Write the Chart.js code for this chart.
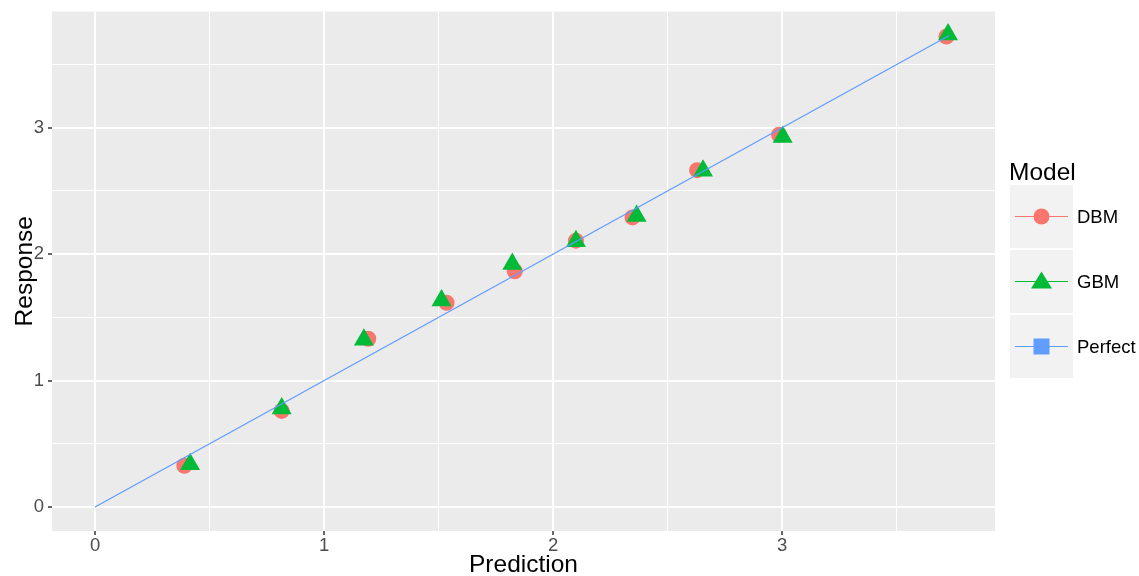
<!DOCTYPE html>
<html>
<head>
<meta charset="utf-8">
<script src="https://cdn.jsdelivr.net/npm/chart.js@4.4.1/dist/chart.umd.min.js"></script>
<style>
  html, body { margin: 0; padding: 0; background: #ffffff; }
  #wrap { width: 1139px; height: 576px; position: relative; }
</style>
</head>
<body>
<div id="wrap"><canvas id="c" width="1139" height="576"></canvas></div>
<script>
// Predicted vs. observed response for each model
const dbmPred = [0.390, 0.815, 1.193, 1.535, 1.833, 2.100, 2.347, 2.629, 2.987, 3.718];
const dbmResp = [0.326, 0.760, 1.331, 1.616, 1.865, 2.107, 2.291, 2.665, 2.944, 3.722];
const gbmPred = [0.415, 0.815, 1.174, 1.513, 1.822, 2.100, 2.365, 2.655, 3.003, 3.725];
const gbmResp = [0.339, 0.779, 1.324, 1.634, 1.923, 2.102, 2.303, 2.660, 2.928, 3.739];
// Reference line y = x
const perfectX = [0, 3.73];
const perfectY = [0, 3.73];

const seriesNames = ['DBM', 'GBM', 'Perfect'];
const seriesColors = ['#F8766D', '#00BA38', '#619CFF'];
const gridTicks = [0, 0.5, 1, 1.5, 2, 2.5, 3, 3.5];
const xTitle = 'Prediction';
const yTitle = 'Response';
const legendTitle = 'Model';

const toPoints = (xs, ys) => xs.map((x, i) => ({ x: x, y: ys[i] }));
const isMajor = v => Math.abs(v - Math.round(v)) < 1e-9;

const FONT = '"Liberation Sans", Arial, sans-serif';

const panelBg = {
  id: 'panelBg',
  beforeDraw(chart) {
    const { ctx, chartArea: a } = chart;
    ctx.save();
    ctx.fillStyle = '#EBEBEB';
    ctx.fillRect(a.left, a.top, a.right - a.left, a.bottom - a.top);
    ctx.restore();
  }
};

// x-axis title under the tick labels
const xAxisTitle = {
  id: 'xAxisTitle',
  afterDraw(chart) {
    const { ctx, chartArea: a } = chart;
    ctx.save();
    ctx.fillStyle = '#000000';
    ctx.font = '24.5px ' + FONT;
    ctx.textAlign = 'center';
    ctx.textBaseline = 'alphabetic';
    ctx.fillText(xTitle, (a.left + a.right) / 2, 572);
    ctx.restore();
  }
};

// ggplot-style legend: grey key boxes with line + marker
const keyLegend = {
  id: 'keyLegend',
  afterDraw(chart) {
    const ctx = chart.ctx;
    ctx.save();
    ctx.fillStyle = '#000000';
    ctx.font = '24.5px ' + FONT;
    ctx.textBaseline = 'alphabetic';
    ctx.textAlign = 'left';
    ctx.fillText(legendTitle, 1009, 180);
    const keyX = 1010, keyW = 63, keyH = 63, top0 = 185, gap = 2;
    seriesNames.forEach((name, i) => {
      const y0 = top0 + i * (keyH + gap);
      const cy = y0 + keyH / 2;
      const cx = keyX + keyW / 2;
      ctx.fillStyle = '#F2F2F2';
      ctx.fillRect(keyX, y0, keyW, keyH);
      ctx.strokeStyle = seriesColors[i];
      ctx.lineWidth = 1.2;
      ctx.beginPath();
      ctx.moveTo(keyX + 5, cy);
      ctx.lineTo(keyX + keyW - 5, cy);
      ctx.stroke();
      ctx.fillStyle = seriesColors[i];
      ctx.beginPath();
      if (i === 0) {
        ctx.arc(cx, cy, 8, 0, Math.PI * 2);
      } else if (i === 1) {
        ctx.moveTo(cx, cy - 10);
        ctx.lineTo(cx + 10.5, cy + 7);
        ctx.lineTo(cx - 10.5, cy + 7);
        ctx.closePath();
      } else {
        ctx.rect(cx - 8, cy - 8, 16, 16);
      }
      ctx.fill();
      ctx.fillStyle = '#000000';
      ctx.font = '18.5px ' + FONT;
      ctx.textBaseline = 'middle';
      ctx.fillText(name, 1077, cy + 1);
    });
    ctx.restore();
  }
};

const gridCfg = {
  color: '#FFFFFF',
  lineWidth: c => (c.tick && isMajor(c.tick.value) ? 2 : 1),
  tickColor: c => (c.tick && isMajor(c.tick.value) ? '#333333' : 'rgba(0,0,0,0)'),
  tickLength: 4,
  tickWidth: 1.5,
  drawOnChartArea: true
};
const tickFont = { family: FONT, size: 18.5 };
const titleFont = { family: FONT, size: 24.5 };

new Chart(document.getElementById('c'), {
  type: 'scatter',
  data: {
    datasets: [
      {
        label: 'Perfect',
        data: toPoints(perfectX, perfectY),
        showLine: true,
        borderColor: seriesColors[2],
        borderWidth: 1.3,
        pointRadius: 0,
        order: 0
      },
      {
        label: 'GBM',
        data: toPoints(gbmPred, gbmResp),
        backgroundColor: seriesColors[1],
        borderColor: seriesColors[1],
        borderWidth: 0,
        pointStyle: 'triangle',
        pointRadius: 11.5,
        order: 1
      },
      {
        label: 'DBM',
        data: toPoints(dbmPred, dbmResp),
        backgroundColor: seriesColors[0],
        borderColor: seriesColors[0],
        borderWidth: 0,
        pointStyle: 'circle',
        pointRadius: 8,
        order: 2
      }
    ]
  },
  options: {
    responsive: false,
    animation: false,
    layout: { padding: { top: 10, right: 144, left: 0, bottom: 0 } },
    plugins: { legend: { display: false }, tooltip: { enabled: false } },
    scales: {
      x: {
        type: 'linear',
        min: -0.188,
        max: 3.93,
        afterBuildTicks: s => { s.ticks = gridTicks.map(v => ({ value: v })); },
        afterFit: s => { s.height = 45; s.paddingLeft = 0; s.paddingRight = 0; },
        grid: gridCfg,
        border: { display: false },
        ticks: {
          autoSkip: false,
          maxRotation: 0,
          color: '#4D4D4D',
          font: tickFont,
          padding: 0,
          callback: v => (isMajor(v) ? String(Math.round(v)) : '')
        },
        title: { display: false }
      },
      y: {
        type: 'linear',
        min: -0.19,
        max: 3.92,
        afterBuildTicks: s => { s.ticks = gridTicks.map(v => ({ value: v })); },
        afterFit: s => { s.width = 52; s.paddingTop = 0; s.paddingBottom = 0; },
        grid: gridCfg,
        border: { display: false },
        ticks: {
          autoSkip: false,
          color: '#4D4D4D',
          font: tickFont,
          padding: 4,
          callback: v => (isMajor(v) ? String(Math.round(v)) : '')
        },
        title: { display: true, text: yTitle, color: '#000000', font: titleFont, padding: { top: 11, bottom: 0 } }
      }
    }
  },
  plugins: [panelBg, xAxisTitle, keyLegend]
});
</script>
</body>
</html>
